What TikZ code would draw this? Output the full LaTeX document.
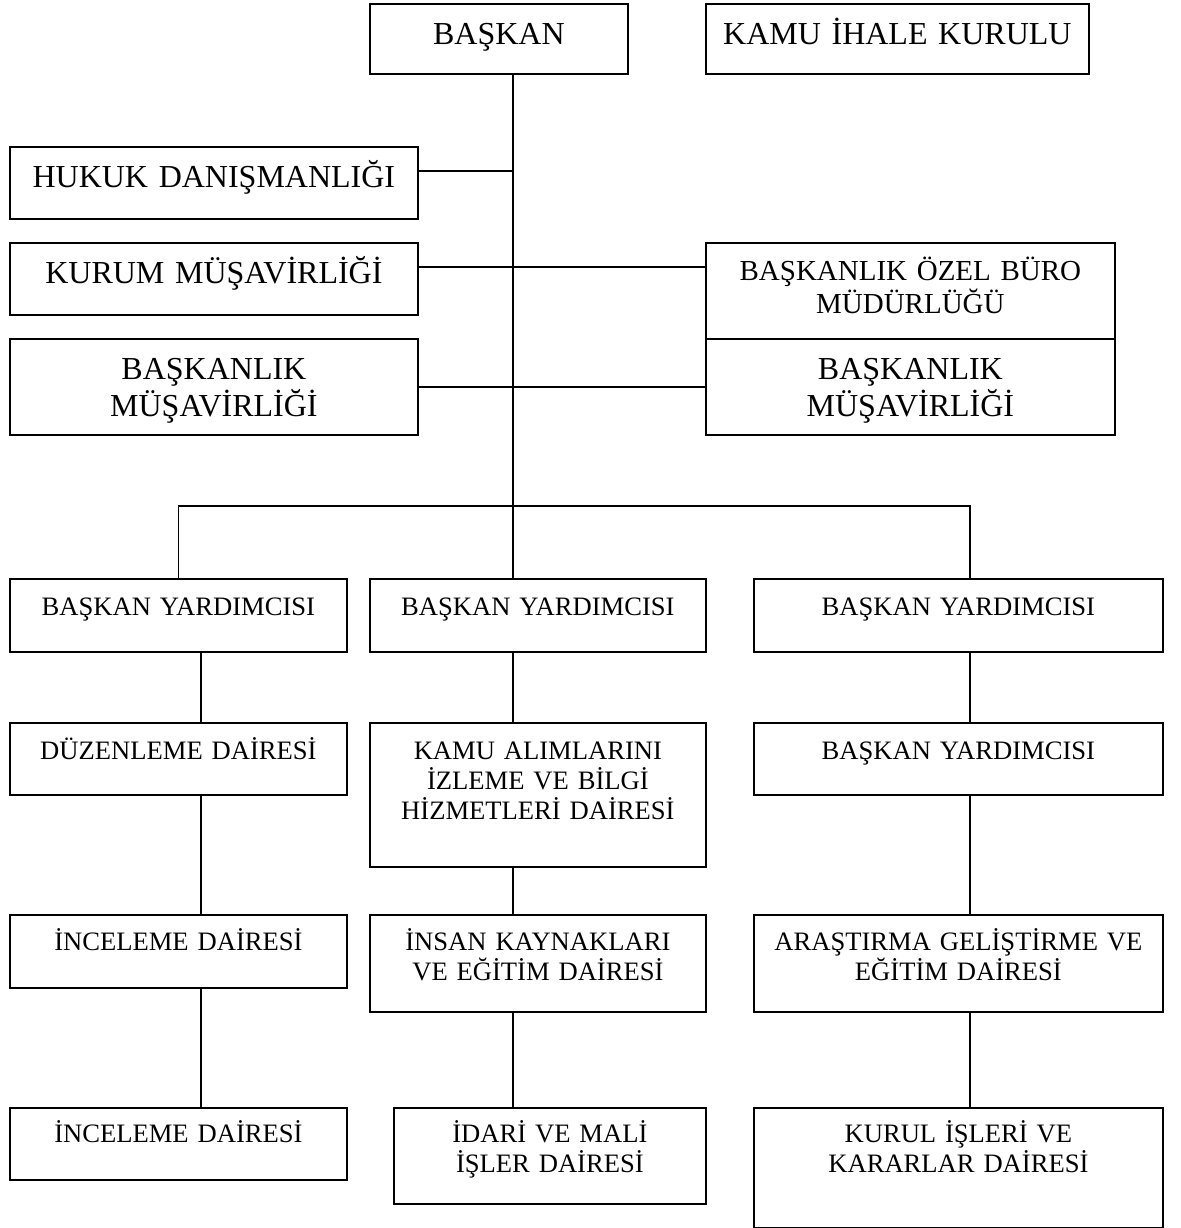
\documentclass[tikz,border=0pt]{standalone}
\usepackage{fontspec}
\setmainfont{Liberation Serif}
\tikzset{
    unit/.style={draw,rectangle,line width=0.9pt,inner xsep=0pt,inner ysep=0pt,align=center,anchor=north west},
    big/.style={font=\fontsize{16}{18.25}\selectfont},
    mid/.style={font=\fontsize{14.5}{16.5}\selectfont},
    small/.style={font=\fontsize{13.3}{15}\selectfont},
    link/.style={line width=0.9pt}
}
\begin{document}
\begin{tikzpicture}[x=0.5pt,y=-0.5pt]
        \useasboundingbox (0,0) rectangle (1180,1228);
        %% Top
        \node[unit,big,text width=129pt,text height=20.5pt,text depth=14.5pt] (bsk) at (369,3) {BAŞKAN};
        \node[unit,big,text width=191.5pt,text height=20.5pt,text depth=14.5pt] (kik) at (705,3) {KAMU İHALE KURULU};
        %% Advisers
        \node[unit,big,text width=204pt,text height=20.5pt,text depth=15.5pt] (hukuk) at (9,146) {HUKUK DANIŞMANLIĞI};
        \node[unit,big,text width=204pt,text height=20.5pt,text depth=15.5pt] (kurum) at (9,242) {KURUM MÜŞAVİRLİĞİ};
        \node[unit,big,text width=204pt,text height=20.5pt,text depth=27.5pt] (bmL) at (9,338) {BAŞKANLIK\\MÜŞAVİRLİĞİ};
        \node[unit,mid,text width=204.5pt,text height=19pt,text depth=29pt] (ozel) at (705,242) {BAŞKANLIK ÖZEL BÜRO\\MÜDÜRLÜĞÜ};
        \node[unit,big,text width=204.5pt,text height=20.5pt,text depth=27.5pt] (bmR) at (705,338) {BAŞKANLIK\\MÜŞAVİRLİĞİ};
        %% Vice presidents
        \node[unit,small,text width=168.5pt,text height=18.5pt,text depth=18pt] (by1) at (9,578) {BAŞKAN YARDIMCISI};
        \node[unit,small,text width=168pt,text height=18.5pt,text depth=18pt] (by2) at (369,578) {BAŞKAN YARDIMCISI};
        \node[unit,small,text width=204.5pt,text height=18.5pt,text depth=18pt] (by3) at (753,578) {BAŞKAN YARDIMCISI};
        %% Departments
        \node[unit,small,text width=168.5pt,text height=18.5pt,text depth=17.5pt] (duz) at (9,722) {DÜZENLEME DAİRESİ};
        \node[unit,small,text width=168pt,text height=18.5pt,text depth=53.5pt] (kamu) at (369,722) {KAMU ALIMLARINI\\İZLEME VE BİLGİ\\HİZMETLERİ DAİRESİ};
        \node[unit,small,text width=204.5pt,text height=18.5pt,text depth=17.5pt] (by4) at (753,722) {BAŞKAN YARDIMCISI};
        \node[unit,small,text width=168.5pt,text height=18pt,text depth=18.5pt] (inc1) at (9,914) {İNCELEME DAİRESİ};
        \node[unit,small,text width=168pt,text height=18pt,text depth=30.5pt] (insan) at (369,914) {İNSAN KAYNAKLARI\\VE EĞİTİM DAİRESİ};
        \node[unit,small,text width=204.5pt,text height=18pt,text depth=30.5pt] (arge) at (753,914) {ARAŞTIRMA GELİŞTİRME VE\\EĞİTİM DAİRESİ};
        \node[unit,small,text width=168.5pt,text height=17.5pt,text depth=18.5pt] (inc2) at (9,1107) {İNCELEME DAİRESİ};
        \node[unit,small,text width=156pt,text height=17.5pt,text depth=30.5pt] (idari) at (393,1107) {İDARİ VE MALİ\\İŞLER DAİRESİ};
        \node[unit,small,text width=204.5pt,text height=17.5pt,text depth=42.5pt] (kurul) at (753,1107) {KURUL İŞLERİ VE\\KARARLAR DAİRESİ};
        %% Lines
        \coordinate (j) at (513,506);
        \coordinate (jr) at (970,506);
        \draw[link] (bsk.south -| j) -- (j);
        \draw[link] ([yshift=6pt]hukuk.east) -- ([yshift=6pt]hukuk.east -| j);
        \draw[link] ([yshift=6pt]kurum.east) -- ([yshift=6pt]kurum.east -| ozel.west);
        \draw[link] (bmL.east) -- (bmR.west);
        \draw[link] (by1.north) |- (jr) -- (jr |- by3.north);
        \draw[link] (j) -- (j |- by2.north);
        \foreach \up/\down/\col in {by1/duz/201,duz/inc1/201,inc1/inc2/201,by2/kamu/513,kamu/insan/513,insan/idari/513,by3/by4/970,by4/arge/970,arge/kurul/970}
            \draw[link] (\up.south -| \col,0) -- (\down.north -| \col,0);
    \end{tikzpicture}
\end{document}
